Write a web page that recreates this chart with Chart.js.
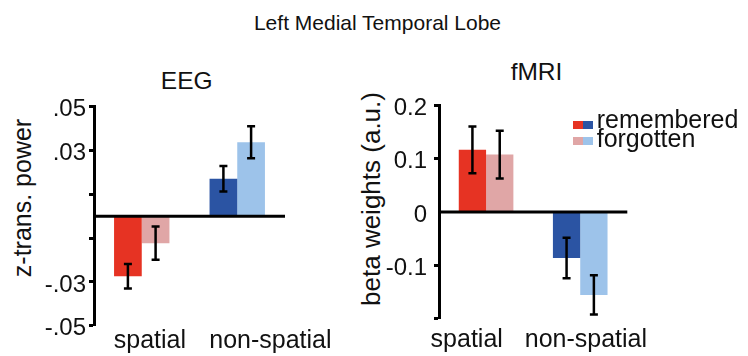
<!DOCTYPE html>
<html>
<head>
<meta charset="utf-8">
<script src="https://cdn.jsdelivr.net/npm/chart.js@4.4.1/dist/chart.umd.min.js"></script>
<style>
  body { margin: 0; background: #fff; width: 748px; height: 356px; position: relative; overflow: hidden;
         font-family: 'Liberation Sans', Arial, sans-serif; color: #111; }
  canvas { position: absolute; top: 0; }
  .t { position: absolute; line-height: 1; white-space: nowrap; }
  .c { transform: translateX(-50%); }
  .rot { transform: translate(-50%, -50%) rotate(-90deg); }
  .sw { position: absolute; width: 10px; height: 8px; }
</style>
</head>
<body>
<div class="t c" style="left:377.5px; top:11.5px; font-size:21px;">Left Medial Temporal Lobe</div>
<div class="t c" style="left:186.7px; top:68.6px; font-size:24.5px;">EEG</div>
<div class="t c" style="left:536.5px; top:60.3px; font-size:24.5px;">fMRI</div>
<div class="t rot" style="left:21.8px; top:197.5px; font-size:25px;">z-trans. power</div>
<div class="t rot" style="left:371.4px; top:199px; font-size:26px;">beta weights (a.u.)</div>

<canvas id="eegChart" width="345" height="356" style="left:0"></canvas>
<canvas id="fmriChart" width="403" height="356" style="left:345px"></canvas>

<div id="legend"></div>

<script>
// Data
const categories = ['spatial', 'non-spatial'];
const seriesNames = ['remembered', 'forgotten'];

const eegRemembered = [-0.0274, 0.0171];
const eegForgotten = [-0.0123, 0.0338];
const eegRememberedErr = [0.0056, 0.0058];
const eegForgottenErr = [0.0076, 0.0073];
const eegTicks = [-0.05, -0.03, -0.01, 0.01, 0.03, 0.05];
const eegTickLabels = ['-.05', '-.03', '', '', '.03', '.05'];

const fmriRemembered = [0.117, -0.0865];
const fmriForgotten = [0.108, -0.156];
const fmriRememberedErr = [0.044, 0.038];
const fmriForgottenErr = [0.045, 0.037];
const fmriTicks = [-0.2, -0.1, 0, 0.1, 0.2];
const fmriTickLabels = ['', '-0.1', '0', '0.1', '0.2'];

// Colours: [spatial, non-spatial]
const rememberedColors = ['#e63323', '#2b54a3'];
const forgottenColors = ['#e0a6a6', '#9dc3ea'];

Chart.defaults.font.family = "'Liberation Sans', Arial, sans-serif";
Chart.defaults.color = '#111';

// zero line + error bars drawn over the bars
const errorBars = {
  id: 'errorBars',
  afterDatasetsDraw(chart) {
    const { ctx, chartArea } = chart;
    const y = chart.scales.y;
    ctx.save();
    ctx.strokeStyle = '#000';
    ctx.lineWidth = 3;
    const y0 = y.getPixelForValue(0);
    ctx.beginPath();
    ctx.moveTo(chartArea.left, y0);
    ctx.lineTo(chartArea.right, y0);
    ctx.stroke();

    ctx.lineWidth = 2.5;
    chart.data.datasets.forEach((ds, i) => {
      chart.getDatasetMeta(i).data.forEach((bar, j) => {
        const v = ds.data[j], e = ds.errors[j];
        const yt = y.getPixelForValue(v + e);
        const yb = y.getPixelForValue(v - e);
        ctx.beginPath();
        ctx.moveTo(bar.x, yt); ctx.lineTo(bar.x, yb);
        ctx.moveTo(bar.x - 4, yt); ctx.lineTo(bar.x + 4, yt);
        ctx.moveTo(bar.x - 4, yb); ctx.lineTo(bar.x + 4, yb);
        ctx.stroke();
      });
    });
    ctx.restore();
  }
};

function makeChart(id, opts) {
  const labelFor = v => opts.tickLabels[opts.ticks.findIndex(t => Math.abs(t - v) < 1e-9)];
  return new Chart(document.getElementById(id), {
    type: 'bar',
    data: {
      labels: categories,
      datasets: [
        { label: seriesNames[0], data: opts.remembered, errors: opts.rememberedErr, backgroundColor: rememberedColors },
        { label: seriesNames[1], data: opts.forgotten, errors: opts.forgottenErr, backgroundColor: forgottenColors }
      ]
    },
    options: {
      responsive: false,
      animation: false,
      devicePixelRatio: 1,
      categoryPercentage: 0.58,
      barPercentage: 1,
      layout: { padding: opts.padding },
      plugins: { legend: { display: false }, tooltip: { enabled: false } },
      scales: {
        x: {
          afterFit: s => { s.height = opts.xHeight; s.paddingLeft = 0; s.paddingRight = 0; },
          grid: { display: false, drawTicks: false },
          border: { display: false },
          ticks: {
            align: 'start', labelOffset: opts.xLabelOffset, padding: opts.xPadding,
            maxRotation: 0, minRotation: 0, autoSkip: false,
            font: { size: 25 }, color: '#111'
          }
        },
        y: {
          min: opts.ticks[0],
          max: opts.ticks[opts.ticks.length - 1],
          afterBuildTicks: s => { s.ticks = opts.ticks.map(v => ({ value: v })); },
          afterFit: s => { s.width = 94; s.paddingTop = 0; s.paddingBottom = 0; },
          ticks: {
            callback: v => labelFor(v),
            font: { size: 24 }, color: '#111',
            padding: opts.yPadding, labelOffset: 3
          },
          grid: {
            drawOnChartArea: false, tickLength: 5, tickWidth: 3,
            tickColor: c => (c.tick && c.tick.value === 0) ? 'rgba(0,0,0,0)' : '#000'
          },
          border: { display: true, color: '#000', width: 3 }
        }
      }
    },
    plugins: [errorBars]
  });
}

makeChart('eegChart', {
  remembered: eegRemembered, forgotten: eegForgotten,
  rememberedErr: eegRememberedErr, forgottenErr: eegForgottenErr,
  ticks: eegTicks, tickLabels: eegTickLabels,
  padding: { left: 0, top: 106.7, right: 60, bottom: 0 },
  xHeight: 30.3, xPadding: 0, xLabelOffset: -28, yPadding: 3
});

makeChart('fmriChart', {
  remembered: fmriRemembered, forgotten: fmriForgotten,
  rememberedErr: fmriRememberedErr, forgottenErr: fmriForgottenErr,
  ticks: fmriTicks, tickLabels: fmriTickLabels,
  padding: { left: 0, top: 105.7, right: 120.7, bottom: 0 },
  xHeight: 37.7, xPadding: 6.7, xLabelOffset: -55.5, yPadding: 7
});

// Legend (HTML)
const legend = document.getElementById('legend');
const rows = [
  { name: seriesNames[0], colors: rememberedColors, swTop: 120.7, textTop: 107.1 },
  { name: seriesNames[1], colors: forgottenColors, swTop: 136.7, textTop: 125.5 }
];
rows.forEach(r => {
  r.colors.forEach((c, k) => {
    const sw = document.createElement('div');
    sw.className = 'sw';
    sw.style.left = (573.3 + k * 10) + 'px';
    sw.style.top = r.swTop + 'px';
    sw.style.background = c;
    legend.appendChild(sw);
  });
  const t = document.createElement('div');
  t.className = 't';
  t.style.left = '596.7px';
  t.style.top = r.textTop + 'px';
  t.style.fontSize = '25px';
  t.textContent = r.name;
  legend.appendChild(t);
});
</script>
</body>
</html>
